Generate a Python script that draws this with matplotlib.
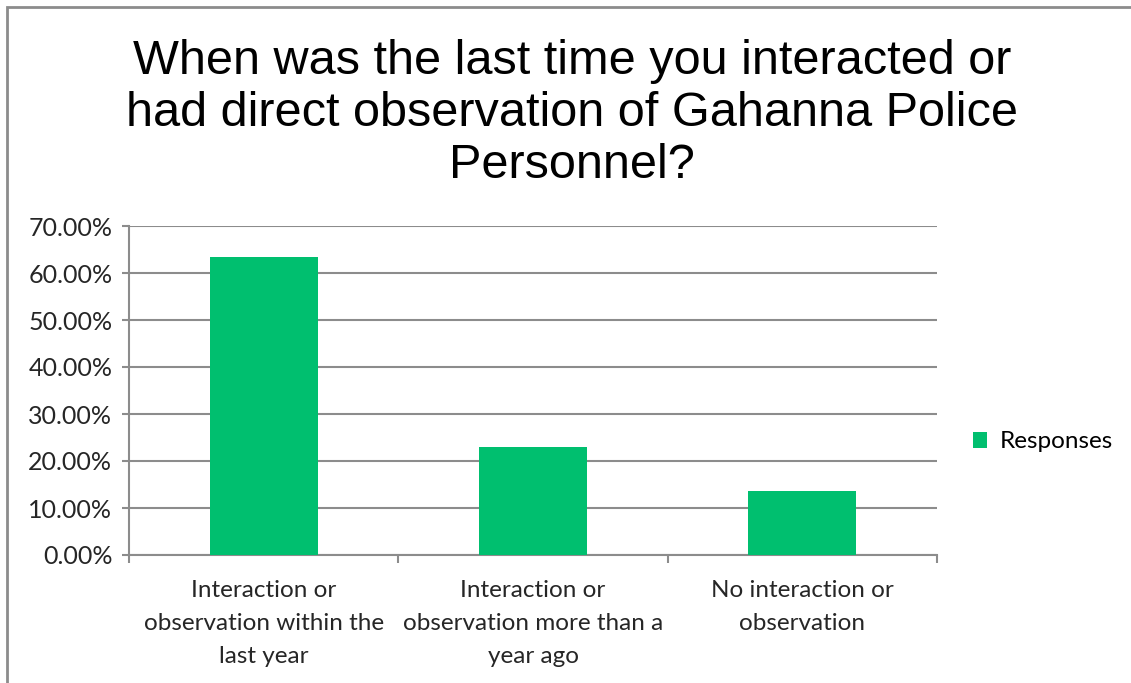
import matplotlib.pyplot as plt
from matplotlib.patches import Rectangle
from matplotlib.ticker import FuncFormatter

# Datos del gráfico
categorias = ["Interaction or\nobservation within the\nlast year",
              "Interaction or\nobservation more than a\nyear ago",
              "No interaction or\nobservation"]
respuestas = [0.635, 0.229, 0.136]
titulo = "When was the last time you interacted or\nhad direct observation of Gahanna Police\nPersonnel?"

verde = '#00BF6F'
gris = '#8C8C8C'
fuente = 'Lato'

fig = plt.figure(figsize=(11.31, 6.83), dpi=100)
ax = fig.add_axes([129/1131, 1 - 555/683, 808/1131, 329/683])

x = range(len(categorias))
ax.bar(x, respuestas, width=0.4, color=verde, label='Responses', zorder=3)

ax.set_xlim(-0.5, 2.5)
ax.set_ylim(0, 0.70)
ax.set_yticks([i / 10 for i in range(8)])
ax.yaxis.set_major_formatter(FuncFormatter(lambda v, p: f"{v*100:.2f}%"))
ax.grid(axis='y', color=gris, linewidth=1.5, zorder=0)

# Etiquetas de categoría en ticks mayores, marcas en los límites (ticks menores)
ax.set_xticks(list(x))
ax.set_xticklabels(categorias, fontsize=17.5, family=fuente, color='#262626', linespacing=1.7)
ax.set_xticks([-0.5, 0.5, 1.5, 2.5], minor=True)
ax.tick_params(axis='x', which='major', length=0, pad=18)
ax.tick_params(axis='x', which='minor', length=6, width=1.5, color=gris)
ax.tick_params(axis='y', length=5, width=1.5, color=gris, pad=7, labelsize=18)
for t in ax.get_yticklabels():
    t.set_family(fuente)
    t.set_color('#262626')

for lado in ['top', 'right']:
    ax.spines[lado].set_visible(False)
for lado in ['left', 'bottom']:
    ax.spines[lado].set_color(gris)
    ax.spines[lado].set_linewidth(1.5)

fig.text(0.506, 0.834, titulo, ha='center', va='center', fontsize=35,
         family='Liberation Sans', linespacing=1.2)

leg = fig.legend(loc='center left', bbox_to_anchor=(951/1131, 1 - 442/683), frameon=False,
                 prop={'family': fuente, 'size': 17.5}, handlelength=0.6, handleheight=0.6,
                 handletextpad=0.5)

# Borde del área del gráfico
fig.patches.append(Rectangle((7/1131, -0.5), 2, 1.5 - 7/683, transform=fig.transFigure,
                             fill=False, edgecolor=gris, linewidth=2))

fig.savefig('out.png', dpi=100)
